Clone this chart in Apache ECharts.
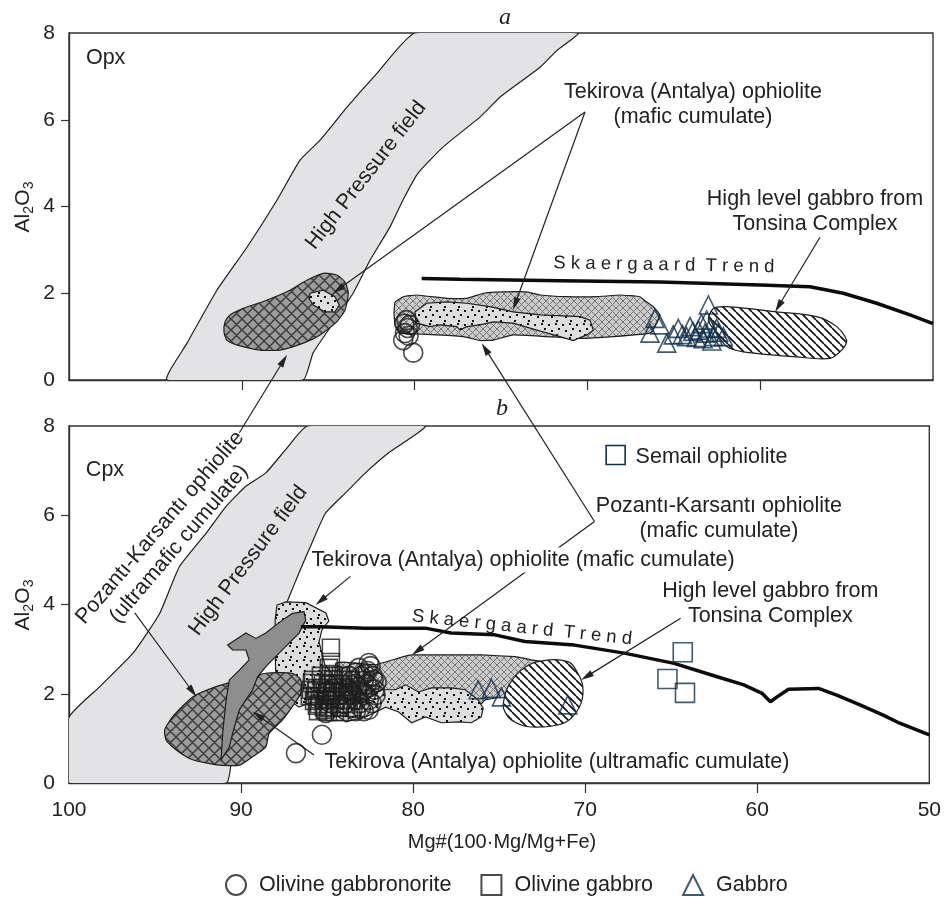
<!DOCTYPE html>
<html>
<head>
<meta charset="utf-8">
<script src="https://cdn.jsdelivr.net/npm/echarts@6/dist/echarts.min.js"></script>
<style>
  html, body { margin: 0; padding: 0; background: #fff; }
  #chart { width: 944px; height: 898px; }
</style>
</head>
<body>
<div id="chart"></div>
<script>
// ---------- axes ----------
const xTickValues = [100, 90, 80, 70, 60, 50];
const xInnerTicks = [90, 80, 70, 60];
const yTickValues = [0, 2, 4, 6, 8];
const yInnerTicks = [2, 4, 6];

// ---------- panel a: orthopyroxene (Mg#, Al2O3) ----------
const hpFieldOpx = [[94.33,0],[93.17,0.85],[91.44,2.07],[89.70,3.06],[87.96,4.15],[86.63,5.07],[85.47,5.53],[83.91,6.29],[82.18,7.07],[79.98,8],
  [70.54,8],[71.76,7.60],[72.74,7.21],[75.06,6.52],[76.22,6.06],[78.36,5.37],[79.80,4.77],[80.67,4.15],[81.42,3.53],[82.58,2.76],[83.56,2.00],[84.72,1.31],[85.88,0.62],[86.46,0]];
const pkUltramaficOpx = [[90.97,1.34],[90.68,1.50],[89.91,1.65],[88.56,1.84],[87.21,2.07],[86.24,2.30],[85.28,2.46],[84.51,2.42],[84.03,2.26],[83.84,2.00],[84.03,1.61],[84.51,1.34],[85.47,1.04],[86.44,0.85],[87.79,0.69],[88.95,0.69],[90.30,0.81],[90.87,0.92],[91.03,1.11]];
const tekSmallOpx = [[86.05,2.00],[85.28,2.07],[84.61,1.92],[84.36,1.73],[84.61,1.57],[85.19,1.57],[85.86,1.73],[86.09,1.86]];
const pkMaficOpx = [[81.13,1.80],[80.65,1.92],[79.88,1.96],[78.14,1.88],[76.99,1.88],[76.02,2.00],[74.87,2.03],[73.51,2.03],[72.74,1.96],[71.20,1.92],[69.46,1.92],[68.11,1.96],[66.96,1.92],[66.57,1.80],[66.19,1.69],[65.80,1.50],[65.99,1.31],[66.38,1.08],[68.50,1.00],[70.43,0.96],[72.35,1.00],[74.29,1.04],[75.44,0.92],[76.22,0.91],[77.18,1.00],[78.72,1.04],[79.88,1.06],[80.84,1.08],[81.13,1.27],[81.19,1.54]];
const tekMaficOpx = [[79.98,1.57],[79.30,1.77],[78.14,1.80],[76.99,1.77],[75.64,1.69],[74.29,1.57],[72.74,1.50],[70.43,1.46],[69.85,1.38],[69.66,1.15],[70.04,1.04],[70.82,0.91],[71.59,1.00],[72.93,1.15],[74.29,1.31],[75.44,1.34],[76.22,1.27],[76.99,1.23],[77.37,1.15],[77.56,1.23],[78.53,1.27],[79.11,1.23],[79.88,1.31]];
const tonsinaOpx = [[62.71,1.65],[61.94,1.69],[59.05,1.57],[56.74,1.46],[55.58,1.23],[55.00,0.92],[55.19,0.73],[55.96,0.50],[58.08,0.54],[60.98,0.65],[61.94,0.77],[62.52,1.08],[63.00,1.38]];
const skaergaardOpx = [[79.59,2.34],[77.37,2.32],[71.59,2.29],[65.80,2.26],[60.01,2.19],[57.12,2.15],[55.19,2.00],[53.26,1.77],[51.33,1.50],[50.00,1.30]];
const opxGabbronorite = [[80.47,1.38],[80.27,1.27],[80.56,1.08],[80.66,0.92],[80.40,1.20],[80.60,1.30],[80.35,1.02],[80.08,0.63]];
const opxGabbro = [[66.09,1.42],[65.80,1.27],[66.38,1.08],[65.41,0.85],[64.74,1.19],[64.06,1.23],[63.58,1.15],[63.00,1.73],[63.10,1.38],[63.19,1.08],[62.52,1.19],[62.13,1.00],[62.71,1.00],[64.26,1.00],[65.03,1.04],[63.40,1.30],[62.90,1.20],[64.50,1.05],[63.30,0.95],[62.40,1.10],[63.70,0.98],[62.80,0.90],[63.90,1.12]];

// ---------- panel b: clinopyroxene (Mg#, Al2O3) ----------
const hpFieldCpx = [[100,0],[100,1.47],[98.21,2.16],[96.28,2.91],[94.73,3.80],[93.58,4.85],[92.03,5.60],[90.87,6.20],[89.72,6.65],[88.56,6.95],[87.41,7.47],[86.15,8],
  [79.30,8],[81.42,7.40],[82.77,6.95],[83.93,6.50],[85.09,6.05],[85.88,5.38],[86.63,4.71],[87.21,4.17],[87.62,3.77],[88.37,3.21],[89.24,2.31],[89.93,1.41],[90.51,0.67],[90.86,0]];
const pkUltramaficCpx = [[94.44,1.19],[93.96,1.49],[92.81,1.93],[91.45,2.16],[90.10,2.31],[88.56,2.46],[87.02,2.46],[86.53,2.31],[86.53,2.01],[87.02,1.71],[87.60,1.41],[88.37,1.11],[88.56,0.81],[89.33,0.59],[90.10,0.40],[91.26,0.40],[92.81,0.52],[93.77,0.74],[94.35,0.96]];
const tekUltramaficCpx = [[90.78,3.09],[89.72,3.36],[89.14,3.24],[88.56,3.36],[87.60,3.65],[87.02,3.80],[86.34,3.84],[86.24,3.65],[86.63,3.36],[87.40,3.06],[88.18,2.76],[88.56,2.61],[89.04,2.38],[89.33,2.09],[90.10,1.64],[90.49,1.11],[90.68,0.81],[91.16,0.52],[91.07,1.11],[90.87,1.86],[90.68,2.31],[90.10,2.53],[89.53,2.76],[89.72,2.98],[90.49,2.98]];
const tekMaficCpx = [[87.91,3.99],[87.38,4.06],[86.23,4.04],[85.07,3.81],[84.90,3.63],[85.30,3.43],[85.47,3.16],[85.13,2.65],[84.03,2.09],[82.75,1.86],[81.89,2.09],[81.02,2.09],[80.44,2.20],[79.69,2.04],[78.94,2.13],[77.78,2.13],[76.97,2.09],[76.22,1.86],[75.93,1.68],[76.04,1.48],[76.62,1.35],[77.37,1.37],[78.36,1.35],[79.28,1.48],[80.09,1.35],[80.84,1.59],[81.60,1.70],[82.75,1.48],[83.91,1.37],[84.32,1.48],[86.05,1.79],[86.63,1.70],[87.21,1.86],[87.96,2.09],[88.02,2.98],[88.02,3.65]];
const pkMaficCpx = [[84.49,2.69],[84.03,2.71],[82.18,2.65],[80.84,2.80],[80.09,2.87],[78.53,2.87],[76.04,2.87],[74.07,2.83],[73.15,2.76],[72.28,2.71],[71.59,2.58],[71.59,2.09],[72.74,1.93],[75.06,1.91],[75.81,1.86],[76.50,1.59],[76.97,1.46],[77.78,1.37],[79.11,1.52],[79.98,1.86],[82.00,1.86],[84.03,1.75],[84.61,2.09]];
const tonsinaCpx = [[74.77,1.75],[74.48,2.16],[73.71,2.53],[72.74,2.72],[71.01,2.72],[70.43,2.46],[70.14,2.16],[70.24,1.79],[70.82,1.45],[71.59,1.30],[73.32,1.26],[74.29,1.41],[74.67,1.60]];
const skaergaardCpx = [[86.53,3.50],[85.38,3.50],[82.77,3.47],[79.30,3.47],[77.80,3.36],[75.25,3.32],[73.51,3.17],[70.62,3.09],[67.73,2.91],[64.83,2.68],[62.33,2.38],[60.78,2.20],[59.72,2.01],[59.24,1.82],[58.85,1.93],[58.18,2.10],[56.44,2.12],[55.38,1.97],[54.03,1.75],[52.68,1.52],[51.72,1.34],[50.00,1.08]];
const cpxGabbronorite = [[83.74,2.40],[83.39,2.22],[83.04,2.40],[82.70,2.22],[82.35,2.40],[83.62,2.04],[83.28,1.86],[82.93,2.04],[82.58,1.86],[82.23,2.09],[83.97,1.77],[83.51,1.68],[83.04,1.68],[82.58,1.64],[83.16,2.58],[82.47,2.62],[82.81,2.44],[82.12,2.26],[82.58,2.69],
  [83.56,2.29],[83.22,2.15],[82.87,2.29],[82.52,2.15],[82.18,1.97],[83.45,1.97],[83.10,1.79],[82.75,1.97],[82.41,1.79],[83.80,2.11],[83.33,1.61],[82.87,1.61],[82.29,2.31],[82.64,2.51],[83.33,2.47],
  [85.07,1.57],[85.30,1.08],[86.81,0.67]];
const cpxOlivineGabbro = [[85.82,2.31],[85.59,2.13],[85.71,1.95],[85.47,1.77],[85.24,2.22],[85.13,2.04],[85.01,1.86],[84.90,1.68],[84.66,2.31],[84.55,2.13],[84.43,1.95],[84.32,1.77],[84.09,2.22],[83.97,2.04],[83.85,1.86],[85.36,2.40],[84.78,2.44],[84.20,2.40],[83.62,2.31],[85.94,2.09],[83.74,1.68],[85.13,1.64],[85.59,1.73],[84.55,1.59],
  [85.88,2.24],[85.65,2.06],[85.42,1.88],[85.19,1.70],[84.95,2.24],[84.72,2.06],[84.49,1.88],[84.26,1.70],[84.03,2.15],[83.80,1.97],[85.76,1.84],[85.53,1.61],[85.30,2.13],[85.07,1.95],[84.84,1.77],[84.61,2.40],[84.37,2.22],[84.14,2.04],[83.91,1.77],[83.68,2.09],[86.00,1.95],[84.95,1.59],[84.26,1.59],[83.56,1.86],
  [84.78,3.03],[84.78,2.71],[84.90,2.58]];
const cpxGabbro = [[76.22,2.09],[75.45,2.12],[74.87,1.93],[71.01,1.75]];
const semailCpx = [[64.33,2.93],[65.22,2.33],[64.20,2.02]];

// ---------- styling helpers ----------
const FONT = '"Liberation Sans", Arial, Helvetica, sans-serif';
const INK = '#1e1e1e';
const NAVY = '#13304b';
const NOTE_SIZE = 21.5;

function tile(size, bg, paint) {
  const c = document.createElement('canvas');
  c.width = size; c.height = size;
  const g = c.getContext('2d');
  g.fillStyle = bg; g.fillRect(0, 0, size, size);
  paint(g, size);
  return { image: c, repeat: 'repeat' };
}
function diagonals(g, s, color, w, down, up) {
  g.strokeStyle = color; g.lineWidth = w; g.beginPath();
  for (let k = -s; k <= s; k += s) {
    if (down) { g.moveTo(k, 0); g.lineTo(k + s, s); }
    if (up) { g.moveTo(k + s, 0); g.lineTo(k, s); }
  }
  g.stroke();
}
function dots(g, color, list) {
  g.fillStyle = color;
  list.forEach(d => g.fillRect(d[0], d[1], 2, 2));
}
const fillBand = '#e3e3e5';
const fillCrossDark = tile(11, '#9c9c9c', (g, s) => diagonals(g, s, '#3e3e3e', 1.5, true, true));
const fillCrossLight = tile(7, '#cbcbcb', (g, s) => diagonals(g, s, '#777', 1, true, true));
const fillStipple = tile(14, '#dedede', g => dots(g, '#111', [[2, 2], [9, 1], [5, 8], [12, 6], [10, 12]]));
const fillStripes = tile(8, '#ffffff', (g, s) => diagonals(g, s, '#111', 1.6, true, false));
const fillSolid = '#8e8e8e';

function area(gi, pts, fill, z, smooth) {
  return {
    type: 'custom', coordinateSystem: 'cartesian2d', xAxisIndex: gi, yAxisIndex: gi,
    z: z, silent: true, clip: true,
    data: [pts[0]], encode: { x: 0, y: 1 },
    renderItem: (params, api) => ({
      type: 'polygon',
      shape: { points: pts.map(p => api.coord(p)), smooth: smooth || 0 },
      style: { fill: fill, stroke: INK, lineWidth: 1.2 }
    })
  };
}
function trend(gi, pts) {
  return {
    type: 'line', xAxisIndex: gi, yAxisIndex: gi, data: pts, z: 6, silent: true,
    showSymbol: false, symbol: 'none', lineStyle: { color: '#0c0c0c', width: 3.5 }
  };
}
function markers(gi, name, pts, symbol, size, color) {
  return {
    type: 'scatter', name: name, xAxisIndex: gi, yAxisIndex: gi, data: pts, z: 8, silent: true,
    symbol: symbol, symbolSize: size,
    itemStyle: { color: 'rgba(255,255,255,0)', borderColor: color, borderWidth: 1.6 }
  };
}

const grids = [
  { left: 69, top: 33, width: 864, height: 347 },
  { left: 69, top: 426, width: 864, height: 357 }
];

const option = {
  animation: false,
  backgroundColor: '#fff',
  grid: grids.map(g => Object.assign({ show: true, borderColor: '#333', borderWidth: 1.4, backgroundColor: 'transparent' }, g)),
  xAxis: [0, 1].map(i => ({
    gridIndex: i, type: 'value', min: 50, max: 100, interval: 10, inverse: true,
    axisLine: { show: true, onZero: false, lineStyle: { color: '#333', width: 1.4 } },
    axisTick: { show: true, length: 10, customValues: xInnerTicks, lineStyle: { color: '#333', width: 1.2 } },
    axisLabel: { show: i === 1, customValues: xTickValues, margin: 17, fontSize: 21, color: '#222', fontFamily: FONT },
    splitLine: { show: false }
  })),
  yAxis: [0, 1].map(i => ({
    gridIndex: i, type: 'value', min: 0, max: 8, interval: 2,
    axisLine: { show: true, onZero: false, lineStyle: { color: '#333', width: 1.4 } },
    axisTick: { show: true, length: 8, customValues: yInnerTicks, lineStyle: { color: '#333', width: 1.2 } },
    axisLabel: { customValues: yTickValues, margin: 14, fontSize: 21, color: '#222', fontFamily: FONT },
    splitLine: { show: false }
  })),
  legend: {
    data: ['Olivine gabbronorite', 'Olivine gabbro', 'Gabbro'],
    left: 220, top: 869, itemWidth: 20, itemHeight: 20, itemGap: 29,
    symbolKeepAspect: true, selectedMode: false,
    textStyle: { fontSize: 21.5, color: '#222', fontFamily: FONT, padding: [0, 0, 0, 8] }
  },
  series: [
    // panel a
    area(0, hpFieldOpx, fillBand, 1, 0.15),
    area(0, pkUltramaficOpx, fillCrossDark, 2, 0.2),
    area(0, tekSmallOpx, fillStipple, 3, 0),
    area(0, pkMaficOpx, fillCrossLight, 2, 0.1),
    area(0, tekMaficOpx, fillStipple, 3, 0),
    area(0, tonsinaOpx, fillStripes, 3, 0.3),
    trend(0, skaergaardOpx),
    markers(0, 'Olivine gabbronorite', opxGabbronorite, 'circle', 19, INK),
    markers(0, 'Gabbro', opxGabbro, 'triangle', 18, NAVY),
    // panel b
    area(1, hpFieldCpx, fillBand, 1, 0.15),
    area(1, pkMaficCpx, fillCrossLight, 2, 0.05),
    area(1, tekMaficCpx, fillStipple, 3, 0),
    area(1, pkUltramaficCpx, fillCrossDark, 4, 0.2),
    area(1, tekUltramaficCpx, fillSolid, 5, 0),
    area(1, tonsinaCpx, fillStripes, 5, 0.4),
    trend(1, skaergaardCpx),
    markers(1, 'Olivine gabbronorite', cpxGabbronorite, 'circle', 19, INK),
    markers(1, 'Olivine gabbro', cpxOlivineGabbro, 'rect', 17, INK),
    markers(1, 'Gabbro', cpxGabbro, 'triangle', 18, NAVY),
    markers(1, 'Semail ophiolite', semailCpx, 'rect', 19, NAVY)
  ]
};

const chart = echarts.init(document.getElementById('chart'), null, { renderer: 'canvas', width: 944, height: 898 });
chart.setOption(option);

// ---------- labels and pointers, placed in axis units ----------
const px = (g, p) => chart.convertToPixel({ gridIndex: g }, p);
const deg = a => a * Math.PI / 180;
const trendText = 'S k a e r g a a r d  T r e n d';

const notes = [
  { g: 0, at: [99.02, 7.42], text: 'Opx', align: 'left' },
  { g: 0, at: [82.81, 4.72], text: 'High Pressure field', rot: 52 },
  { g: 0, at: [63.89, 6.35], text: 'Tekirova (Antalya) ophiolite\n(mafic cumulate)' },
  { g: 0, at: [56.83, 3.88], text: 'High level gabbro from\nTonsina Complex' },
  { g: 0, at: [65.57, 2.65], text: trendText, size: 18.5, rot: -1 },
  { g: 1, at: [99.02, 7.02], text: 'Cpx', align: 'left' },
  { g: 1, at: [89.58, 4.98], text: 'High Pressure field', rot: 53 },
  { g: 1, at: [94.16, 5.54], text: 'Pozantı-Karsantı ophiolite\n(ultramafic cumulate)', rot: 49.5 },
  { g: 1, at: [67.07, 7.31], text: 'Semail ophiolite', align: 'left' },
  { g: 1, at: [62.23, 5.92], text: 'Pozantı-Karsantı ophiolite\n(mafic cumulate)' },
  { g: 1, at: [73.61, 5.00], text: 'Tekirova (Antalya) ophiolite (mafic cumulate)', bg: true },
  { g: 1, at: [59.24, 4.01], text: 'High level gabbro from\nTonsina Complex' },
  { g: 1, at: [73.67, 3.48], text: trendText, size: 18.5, rot: -6 },
  { g: 1, at: [71.64, 0.47], text: 'Tekirova (Antalya) ophiolite (ultramafic cumulate)' }
];

const pointers = [
  [[0, 70.14, 6.18], [0, 84.72, 2.00]],
  [[0, 70.14, 6.18], [0, 74.31, 1.61]],
  [[0, 56.54, 3.29], [0, 59.14, 1.57]],
  [[1, 83.64, 4.63], [1, 85.67, 3.99]],
  [[1, 69.46, 5.86], [1, 80.07, 2.87]],
  [[1, 69.46, 5.86], [0, 76.12, 0.85]],
  [[1, 64.45, 3.69], [1, 70.24, 2.31]],
  [[1, 85.76, 0.63], [1, 89.33, 1.60]],
  [[1, 96.18, 3.81], [1, 92.59, 1.93]],
  [[1, 90.10, 7.85], [0, 87.38, 0.58]]
];

const graphics = [];

pointers.forEach(([f, t]) => {
  const a = px(f[0], [f[1], f[2]]);
  const b = px(t[0], [t[1], t[2]]);
  const dx = b[0] - a[0], dy = b[1] - a[1], L = Math.hypot(dx, dy);
  const ux = dx / L, uy = dy / L, hl = 13, hw = 3.4;
  const base = [b[0] - ux * hl, b[1] - uy * hl];
  graphics.push({
    type: 'line', z: 20, silent: true,
    shape: { x1: a[0], y1: a[1], x2: base[0] + ux * 2, y2: base[1] + uy * 2 },
    style: { stroke: '#222', lineWidth: 1.2 }
  });
  graphics.push({
    type: 'polygon', z: 20, silent: true,
    shape: { points: [b, [base[0] - uy * hw, base[1] + ux * hw], [base[0] + uy * hw, base[1] - ux * hw]] },
    style: { fill: '#222' }
  });
});

notes.forEach(n => {
  const p = px(n.g, n.at);
  graphics.push({
    type: 'text', z: 30, silent: true, x: p[0], y: p[1], rotation: deg(n.rot || 0),
    style: {
      text: n.text, x: 0, y: 0,
      font: (n.size || NOTE_SIZE) + 'px ' + FONT, fill: '#222',
      align: n.align || 'center', verticalAlign: 'middle', lineHeight: 25,
      backgroundColor: n.bg ? '#fff' : undefined
    }
  });
});

// key square for the Semail ophiolite samples
const key = px(1, [68.23, 7.35]);
graphics.push({
  type: 'rect', z: 30, silent: true,
  shape: { x: key[0] - 9.5, y: key[1] - 9.5, width: 19, height: 19 },
  style: { fill: 'none', stroke: NAVY, lineWidth: 1.6 }
});

// panel letters
graphics.push({ type: 'text', z: 30, silent: true, x: 505, y: 18,
  style: { text: 'a', font: 'italic 24px "Liberation Serif", "DejaVu Serif", serif', fill: '#222', align: 'center', verticalAlign: 'middle' } });
graphics.push({ type: 'text', z: 30, silent: true, x: 502, y: 409,
  style: { text: 'b', font: 'italic 24px "Liberation Serif", "DejaVu Serif", serif', fill: '#222', align: 'center', verticalAlign: 'middle' } });

// axis titles
graphics.push({ type: 'text', z: 30, silent: true, x: 502, y: 842,
  style: { text: 'Mg#(100·Mg/Mg+Fe)', font: '20px ' + FONT, fill: '#222', align: 'center', verticalAlign: 'middle' } });

[0, 1].forEach(g => {
  const c = px(g, [100, 4]);
  graphics.push({
    type: 'group', x: 23, y: c[1], rotation: Math.PI / 2, silent: true, z: 30,
    children: [
      { type: 'text', x: -26, y: 0, style: { text: 'Al', font: '21px ' + FONT, fill: '#222', align: 'left', verticalAlign: 'middle' } },
      { type: 'text', x: -7.3, y: 6, style: { text: '2', font: '14px ' + FONT, fill: '#222', align: 'left', verticalAlign: 'middle' } },
      { type: 'text', x: 0.8, y: 0, style: { text: 'O', font: '21px ' + FONT, fill: '#222', align: 'left', verticalAlign: 'middle' } },
      { type: 'text', x: 17.3, y: 6, style: { text: '3', font: '14px ' + FONT, fill: '#222', align: 'left', verticalAlign: 'middle' } }
    ]
  });
});

chart.setOption({ graphic: graphics });
</script>
</body>
</html>
